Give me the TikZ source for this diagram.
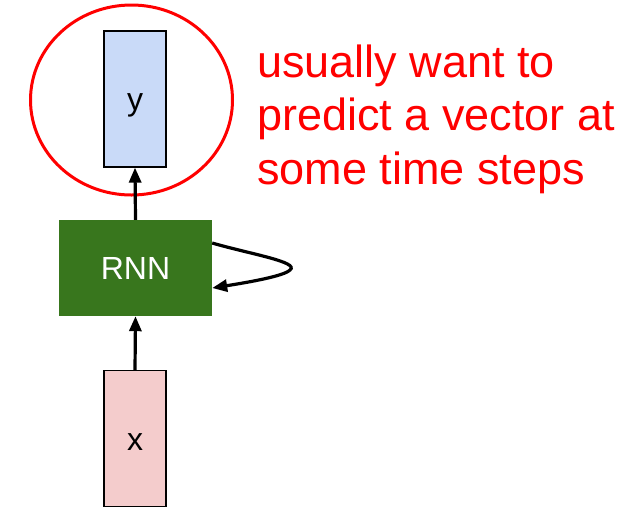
\documentclass[tikz,border=0pt]{standalone}
\usepackage{fontspec}
\setmainfont{Liberation Sans}
\usetikzlibrary{arrows.meta}
\definecolor{rnngreen}{HTML}{38761D}
\definecolor{ybox}{HTML}{C9DAF8}
\definecolor{xbox}{HTML}{F4CCCC}
\begin{document}
\begin{tikzpicture}[x=1pt,y=-1pt,
  vecbox/.style={draw=black, line width=1.2pt, minimum width=62pt, minimum height=136pt, inner sep=0pt, font=\fontsize{32}{32}\selectfont},
  conn/.style={line width=3.2pt, -{Triangle[length=15pt,width=12pt]}},
  note/.style={red, font=\fontsize{45}{53}\selectfont, anchor=base west, inner sep=0pt}]
\useasboundingbox (0,0) rectangle (628,515);
\node[vecbox, fill=ybox] (y) at (135,99) {\raisebox{-11pt}[0pt][0pt]{y}};
\node[vecbox, fill=xbox] (x) at (135,438.5) {\raisebox{-11.5pt}[0pt][0pt]{x}};
\node[fill=rnngreen, minimum width=153pt, minimum height=96pt, inner sep=0pt, text=white, font=\fontsize{32}{32}\selectfont] (rnn) at (135.5,268) {RNN};
\draw[red, line width=3pt] (131.5,100) ellipse [x radius=101, y radius=95];
\draw[conn] (rnn.north) -- (y.south);
\draw[conn] (x.north) -- (rnn.south);
\coordinate (loopA) at ([yshift=25pt]rnn.east);
\coordinate (loopB) at ([yshift=-20pt]rnn.east);
\draw[conn] (loopA) .. controls (250,254) and (300,262) .. (290,270) .. controls (284,276) and (250,282) .. (loopB);
\node[note] (l1) at (257,77) {usually want to};
\node[note] (l2) at (257,130) {predict a vector at};
\node[note] (l3) at (257,184) {some time steps};
\end{tikzpicture}
\end{document}
